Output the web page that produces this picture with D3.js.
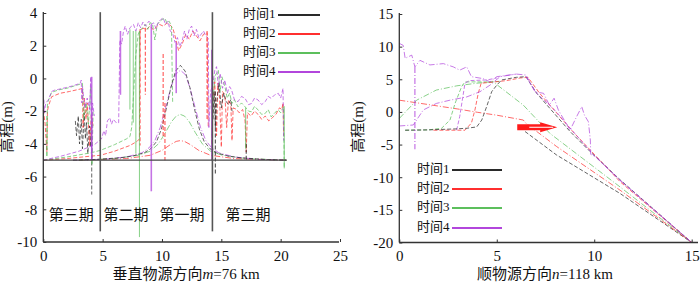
<!DOCTYPE html>
<html><head><meta charset="utf-8">
<script src="https://cdn.jsdelivr.net/npm/d3@7"></script>
<style>
body{margin:0;background:#fff}
svg text{font-family:"Liberation Serif","Noto Sans CJK SC",serif;fill:#111}
</style></head><body>
<svg id="c" width="700" height="282"></svg>
<script>
// ---------- shared labels ----------
const timeNames = ["时间1","时间2","时间3","时间4"];
const periodNames = ["第三期","第二期","第一期","第三期"];
const periodX = [2.35, 6.97, 11.68, 17.25];
const periodY = -8.43;
const dividerX = [4.8, 14.25];
const dividerRange = [4.05, -9.35];
const baseLevel = -5, baseExtent = [0, 20.5];

// ---------- left panel ticks ----------
const leftXTicks = [0,5,10,15,20,25];
const leftYTicks = [-10,-8,-6,-4,-2,0,2,4];
// ---------- right panel ticks ----------
const rightXTicks = [0,5,10,15];
const rightYTicks = [-20,-15,-10,-5,0,5,10,15];

// ---------- left panel data (x km, elevation m) ----------
const t1Mound = [[2.5,-5],[4.5,-4.95],[6.5,-4.85],[7.5,-4.75],[8.5,-4.55],[9.05,-4.3],[9.55,-3.85],[9.95,-3.1],[10.35,-1.9],[10.75,-0.55],[11.15,0.45],[11.55,0.8],[11.95,0.45],[12.35,-0.55],[12.75,-1.9],[13.15,-3.1],[13.55,-3.85],[14.05,-4.3],[14.6,-4.55],[15.6,-4.75],[16.6,-4.85],[18.6,-4.95],[20.5,-5]];
const t4Mound = [[2.5,-5],[5,-4.95],[7,-4.8],[8.3,-4.55],[8.9,-4.25],[9.4,-3.8],[9.85,-3.0],[10.3,-1.8],[10.75,-0.55],[11.15,0.25],[11.55,0.5],[11.95,0.25],[12.35,-0.55],[12.8,-1.8],[13.25,-3.0],[13.7,-3.8],[14.2,-4.25],[14.8,-4.55],[16.1,-4.8],[18.1,-4.95],[20.5,-5]];
const t3Mound = [[3,-5],[6,-4.9],[8,-4.7],[9,-4.45],[9.7,-4.0],[10.3,-3.3],[10.8,-2.65],[11.2,-2.3],[11.55,-2.2],[11.9,-2.3],[12.3,-2.65],[12.8,-3.3],[13.4,-4.0],[14.1,-4.45],[15.1,-4.7],[17.1,-4.9],[20.5,-5]];
const t2Mound = [[3,-5],[7,-4.9],[9,-4.7],[10,-4.4],[10.7,-4.05],[11.2,-3.85],[11.55,-3.8],[11.9,-3.85],[12.4,-4.05],[13.1,-4.4],[14.1,-4.7],[16.1,-4.9],[20.5,-5]];

const t4Center = [[0,-5],[1.5,-4.75],[3,-4.45],[4.3,-4.05],[4.9,-3.7],[5.1,-3.2],[5.25,-3.5],[5.4,-2.6],[5.6,-2.4],[5.75,-2.8],[5.9,-2.5],[6.2,-2.75],[6.35,-2.7],[6.45,2.35],[6.6,2.1],[6.75,2.85],[6.9,3.2],[7.1,2.7],[7.3,3.1],[7.6,3.3],[7.8,2.9],[8.0,3.4],[8.2,3.1],[8.4,3.45],[8.6,3.2],[8.9,3.5],[9.1,3.3],[9.3,3.4],[9.5,3.05],[9.7,3.45],[9.9,3.6],[10.1,3.7],[10.3,3.3],[10.5,3.5],[10.7,2.9],[10.9,2.75],[11.1,2.2],[11.3,2.5],[11.5,1.95],[11.7,2.3],[11.9,2.9],[12.1,2.4],[12.3,3.0],[12.5,3.2],[12.7,2.6],[12.9,3.0],[13.1,2.5],[13.3,2.7],[13.5,2.9],[13.7,2.6],[13.9,2.45],[13.95,-3.0]];
const t3Center = [[0,-5],[2,-4.8],[4,-4.55],[4.8,-4.4],[6,-4.05],[7.0,-3.7],[7.3,-3.55],[7.45,-3.0],[7.6,-1.0],[7.8,1.5],[8.0,2.7],[8.15,2.96],[8.4,3.1],[8.6,3.3],[8.8,3.0],[9.0,3.4],[9.2,3.35],[9.4,2.35],[9.6,3.3],[9.8,3.47],[10.0,3.6],[10.25,3.68],[10.4,3.4],[10.6,3.5],[10.8,3.2],[10.9,-1.5]];
const t2Center = [[0,-5],[2,-4.9],[4,-4.75],[4.8,-4.7],[6,-4.45],[7.3,-4.1],[7.9,-3.85],[8.1,-3.7],[8.15,2.9],[8.4,3.07],[8.7,3.0],[9.0,3.2],[9.3,2.95],[9.55,3.17],[9.8,3.3],[10.1,3.2],[10.4,3.37],[10.7,3.25],[10.9,3.1],[11.1,2.6],[11.4,1.7],[11.7,2.1],[12.0,2.7],[12.3,2.4],[12.6,2.9],[12.9,2.6],[13.2,2.3],[13.5,2.7],[13.8,2.8],[13.9,-3.0]];

const t4Left = [[0.05,-1.3],[0.1,-2.1],[0.2,-1.5],[0.42,-1.32],[0.7,-0.8],[1.0,-0.7],[1.26,-0.67],[1.97,-0.55],[2.5,-0.45],[3.1,-0.3],[3.2,-0.1],[3.25,-1.5],[3.3,-0.5],[3.5,-1.8],[3.7,-1.2],[3.9,-1.9],[4.0,0.1],[4.08,-5],[4.15,-1.5],[4.3,-2.3]];
const t3Left = [[0.3,-2.3],[0.3,-4.8],[0.35,-1.5],[0.7,-0.85],[1.3,-0.7],[2.0,-0.6],[3.1,-0.35],[3.3,-0.3],[3.4,-2.5],[3.6,-1.5],[3.8,-2.8],[4.0,-0.5],[4.1,-5.3],[4.2,-2.0]];
const t2Left = [[0,-1.94],[0.15,-2.75],[0.3,-4.5],[0.35,-2.0],[0.42,-1.73],[0.7,-1.12],[1.4,-0.91],[2.2,-0.8],[3.1,-0.65],[3.3,-0.6],[3.35,-3.0],[3.45,-1.2],[3.6,-2.5],[3.7,-1.5],[3.9,-4.1],[4.05,-2.2],[4.2,-3.0]];
const t1Left = [[2.7,-2.6],[2.8,-3.5],[2.95,-2.3],[3.05,-4.0],[3.2,-2.5],[3.3,-4.3],[3.45,-2.1],[3.55,-3.7],[3.65,-2.7],[3.75,-4.6],[3.9,-2.9],[4.0,-4.2],[4.08,-2.6],[4.08,-7.1]];

const t4Right = [[13.95,-3.0],[14.1,-0.8],[14.3,-0.3],[14.45,0.5],[14.6,0.72],[14.75,-0.5],[14.9,0.31],[15.1,-0.6],[15.3,-0.1],[15.5,-0.9],[15.7,-0.5],[15.87,-0.71],[16.1,-1.3],[16.4,-1.42],[16.7,-1.1],[17.0,-1.22],[17.3,-1.6],[17.55,-1.53],[17.8,-1.2],[18.1,-1.32],[18.4,-1.6],[18.7,-1.42],[18.95,-1.1],[19.2,-1.22],[19.5,-1.0],[19.8,-0.91],[20.0,-1.2],[20.2,-0.61],[20.25,-3.8]];
const t3Right = [[14.2,-3.5],[14.35,-0.9],[14.5,0.2],[14.75,0.5],[14.9,-0.8],[15.05,0.1],[15.3,-0.5],[15.5,-1.2],[15.7,-0.9],[15.9,-1.53],[16.1,-1.3],[16.4,-1.73],[16.7,-1.5],[17.0,-1.73],[17.3,-2.0],[17.55,-2.04],[17.8,-1.7],[18.1,-1.93],[18.4,-2.2],[18.7,-2.14],[18.95,-1.9],[19.2,-2.35],[19.5,-2.1],[19.8,-1.93],[20.0,-2.1],[20.25,-1.73],[20.3,-5.5]];
const t2Right = [[14.2,-4.0],[14.3,-1.2],[14.45,-0.2],[14.6,-3.5],[14.7,-0.3],[14.85,-1.2],[15.0,-4.2],[15.1,-0.8],[15.3,-1.0],[15.45,-3.0],[15.6,-1.3],[15.8,-1.6],[15.9,-3.8],[16.0,-1.8],[16.3,-1.9],[16.5,-2.1],[16.8,-1.9],[17.0,-2.6],[17.1,-4.5],[17.2,-2.1],[17.5,-2.3],[17.8,-2.0],[18.1,-2.2],[18.4,-2.5],[18.7,-2.3],[19.0,-2.6],[19.3,-2.4],[19.6,-2.2],[19.9,-1.8],[20.1,-1.9],[20.2,-1.5],[20.25,-3.5]];
const t1Right = [[14.3,-2.5],[14.4,-0.8],[14.5,-3.0],[14.6,-1.5],[14.8,-0.3],[15.0,-1.8],[15.2,-0.9],[15.4,-1.4],[15.6,-1.6],[15.8,-1.3],[15.9,-2.0]];

// vertical spikes: [x, top, bottom]
const t4SpikesL = [[9.1,3.3,-6.9],[11.2,2.2,-0.9],[4.08,0.1,-5.0],[14.2,1.75,-5.0],[6.5,2.9,-1.0]];
const t3SpikesL = [[8.1,2.9,-9.7],[7.3,3.0,-1.9],[7.58,2.9,-2.7],[7.8,2.9,-4.6],[20.3,-1.7,-5.5],[17.05,-1.8,-4.3]];
const t2SpikesL = [[8.15,3.0,-4.1],[10.1,1.5,-3.65],[10.25,-1.5,-5.0],[13.8,2.9,-2.6],[8.6,3.1,-1.0]];
const t1SpikesL = [[14.5,-0.8,-5.85],[17.1,-4.0,-5.0]];

// ---------- right panel data (x km, elevation m) ----------
const r4Upper = [[0,10.5],[0.2,10.2],[0.3,8.2],[0.46,8.45],[0.64,8.7],[0.8,6.9],[1.06,7.9],[1.57,7.2],[2.26,7.4],[2.77,6.9],[3.1,6.4],[3.46,6.9],[3.7,5.4],[4.3,5.1],[4.65,4.6],[5.0,5.4],[6.0,5.8],[6.5,5.65],[6.96,3.1],[7.4,2.85],[7.7,1.05],[7.94,2.1],[8.16,0.3],[8.76,-2.8],[9.1,-0.7],[9.36,0.8],[9.5,-0.5],[9.7,-1.5],[9.8,-4.3],[9.82,-6.5],[10.1,-6.9],[11.3,-10.4],[15,-20]];
const r4Lower = [[0,-2.15],[0.72,-2.0],[1.23,0.3],[1.9,1.3],[2.6,1.8],[3.46,2.3],[4.14,3.1],[4.65,4.1],[5.17,5.4],[6.0,5.8]];
const r4Steep = [[2.94,-2.8],[3.1,-0.7],[3.37,4.4],[3.6,4.8],[4.5,4.9],[5.0,5.2]];
const r4Slope = [[6.5,5.4],[7.0,3.0],[8.0,0.2],[9.0,-3.3],[10.0,-6.7],[11.33,-10.5],[15,-20]];
const r4Spike = [[0.8,6.9,-5.7]];
const r1Main = [[0.3,-2.8],[1.5,-2.75],[2.9,-2.6],[3.46,-2.5],[3.97,-2.3],[4.23,-1.24],[4.48,0.8],[4.74,3.1],[5.0,4.1],[5.25,4.9],[6.0,5.3],[6.5,5.4],[7.05,2.85],[8.76,-3.0],[9.8,-6.1],[11.33,-10.4],[15,-20]];
const r1Lower = [[6.45,-3.0],[8.07,-6.6],[11.33,-12.5],[15,-20]];
const r2Upper = [[0,1.8],[1,1.35],[2,0.9],[3,0.45],[4,-0.05],[5,-0.5],[6.36,-1.24],[6.5,-1.75],[8.07,-5.3],[11.33,-12.0],[15,-20]];
const r2Steep = [[1.75,-2.8],[2.26,-2.8],[3.37,-2.8],[3.7,-1.7],[3.88,0.3],[4.05,2.85],[4.2,4.4],[4.9,4.6],[5.5,4.8],[6.2,5.2],[6.6,5.3],[7.2,2.85],[8.9,-3.0],[11.33,-10.7],[15,-20]];
const r3Upper = [[0,-1.0],[0.89,1.8],[1.9,3.35],[2.95,4.0],[3.97,4.4],[4.82,4.6],[6.36,1.05],[7.73,-3.3],[11.33,-11.5],[15,-20]];
const r3Steep = [[0.3,-2.8],[1.5,-2.75],[2.17,-2.5],[2.6,-1.24],[2.86,1.3],[3.2,3.9],[3.37,4.6],[4.74,4.6],[5.2,4.7]];
const arrowFrom = [6.05,-2.35], arrowTo = [8.1,-2.35];

// ---------- styles ----------
const colors = ["#2a2a2a","#ff2f2f","#5cbf5c","#b246dc"];
const dashes = {dash:"4,2", dd:"6,2,1,2", solid:null};

const svg = d3.select("#c");

function panel(o){
  const x = d3.scaleLinear().domain(o.xd).range(o.xr);
  const y = d3.scaleLinear().domain(o.yd).range(o.yr);
  const g = svg.append("g");
  const line = d3.line().x(d=>x(d[0])).y(d=>y(d[1]));
  o.series.forEach(s=>{
    g.append("path").attr("d",line(s.d)).attr("fill","none")
     .attr("stroke",colors[s.t]).attr("stroke-width",s.w||1)
     .attr("stroke-opacity",s.op||0.72)
     .attr("stroke-dasharray",dashes[s.k]);
  });
  o.spikes.forEach(s=>{
    s.d.forEach(p=>{
      g.append("line").attr("x1",x(p[0])).attr("x2",x(p[0]))
       .attr("y1",y(p[1])).attr("y2",y(p[2]))
       .attr("stroke",colors[s.t]).attr("stroke-width",s.w||1.2)
       .attr("stroke-opacity",0.75).attr("stroke-dasharray",dashes[s.k]);
    });
  });
  // axes
  const ax = d3.axisBottom(x).tickValues(o.xt).tickSizeInner(-3).tickSizeOuter(0).tickPadding(8).tickFormat(d=>String(d));
  const ay = d3.axisLeft(y).tickValues(o.yt).tickSizeInner(-3).tickSizeOuter(0).tickPadding(6).tickFormat(d=>String(d));
  const gx = svg.append("g").attr("transform",`translate(0,${o.yr[0]})`).call(ax);
  const gy = svg.append("g").attr("transform",`translate(${o.xr[0]},0)`).call(ay);
  [gx,gy].forEach(a=>{
    a.attr("font-family",null);
    a.selectAll("path").attr("stroke","#333").attr("stroke-width",1.3);
    a.selectAll("line").attr("stroke","#333");
    a.selectAll("text").attr("font-size",15).attr("font-family","Liberation Serif").attr("fill","#111");
  });
  gx.select(".domain").attr("d",`M${o.xr[0]},0H${o.axisEnd}`);
  gy.select(".domain").attr("d",`M0,${o.yr[0]}V${o.yr[1]-1}`);
  return {x,y,g};
}

// ----- left panel -----
const L = panel({
  xd:[0,25], xr:[43.3,340], yd:[-10,4], yr:[242,13], xt:leftXTicks, yt:leftYTicks, axisEnd:339,
  series:[
    {d:t1Left,t:0,k:"dash"},
    {d:t2Left,t:1,k:"dash"},{d:t3Left,t:2,k:"dash"},{d:t4Left,t:3,k:"dash"},
    {d:t2Center,t:1,k:"dash"},{d:t3Center,t:2,k:"dash"},{d:t4Center,t:3,k:"dash"},
    {d:t2Right,t:1,k:"dash"},{d:t3Right,t:2,k:"dash"},{d:t4Right,t:3,k:"dash"},{d:t1Right,t:0,k:"dash"},
    {d:t2Mound,t:1,k:"dd"},{d:t3Mound,t:2,k:"dd"},{d:t4Mound,t:3,k:"dd"},{d:t1Mound,t:0,k:"dash"}
  ],
  spikes:[
    {d:t1SpikesL,t:0,k:"dash"},{d:t2SpikesL,t:1,k:"dash"},{d:t3SpikesL,t:2,k:"solid",w:1},{d:t4SpikesL,t:3,k:"solid",w:1.6}
  ]
});
// baseline
L.g.append("line").attr("x1",L.x(baseExtent[0])).attr("x2",L.x(baseExtent[1]))
  .attr("y1",L.y(baseLevel)).attr("y2",L.y(baseLevel)).attr("stroke","#444").attr("stroke-width",1.2);
// dividers
dividerX.forEach(v=>{
  svg.append("line").attr("x1",L.x(v)).attr("x2",L.x(v)).attr("y1",L.y(dividerRange[0])).attr("y2",L.y(dividerRange[1]))
    .attr("stroke","#555").attr("stroke-width",1.6);
});
periodNames.forEach((p,i)=>{
  svg.append("text").attr("x",L.x(periodX[i])).attr("y",L.y(periodY)).attr("text-anchor","middle")
    .attr("dominant-baseline","middle").attr("font-size",15).text(p);
});

// ----- right panel -----
const R = panel({
  xd:[0,15], xr:[399.3,691.7], yd:[-20,15], yr:[242.5,14], xt:rightXTicks, yt:rightYTicks, axisEnd:698,
  series:[
    {d:r1Lower,t:0,k:"dash"},{d:r2Upper,t:1,k:"dd"},{d:r3Upper,t:2,k:"dd"},
    {d:r3Steep,t:2,k:"dash"},{d:r2Steep,t:1,k:"dash"},{d:r4Steep,t:3,k:"dash"},
    {d:r1Main,t:0,k:"dash"},{d:r4Lower,t:3,k:"dd"},{d:r4Slope,t:3,k:"dash"},{d:r4Upper,t:3,k:"dd"}
  ],
  spikes:[{d:r4Spike,t:3,k:"dd",w:1.2}]
});
// arrow (annotation)
{
  const x0=R.x(arrowFrom[0]), x1=R.x(arrowTo[0]), yy=R.y(arrowFrom[1]);
  const hx = x1-17;
  const pts=[[x0,yy-3],[hx,yy-3],[hx,yy-5],[x1,yy],[hx,yy+5],[hx,yy+3],[x0,yy+3]];
  R.g.append("polygon").attr("points",pts.map(p=>p.join(",")).join(" ")).attr("fill","#ff1a1a");
  R.g.append("line").attr("x1",x0+12).attr("x2",x1-4).attr("y1",yy).attr("y2",yy).attr("stroke","#fff").attr("stroke-width",1);
}

// ----- axis titles -----
function ytitle(cx){
  svg.append("text").attr("transform",`translate(${cx},127) rotate(-90)`).attr("text-anchor","middle")
    .attr("dominant-baseline","middle").attr("font-size",15).text("高程(m)");
}
ytitle(9); ytitle(360);
function xtitle(cx, pre, v, post){
  const t = svg.append("text").attr("x",cx).attr("y",279).attr("text-anchor","middle").attr("font-size",15);
  t.append("tspan").text(pre);
  t.append("tspan").attr("font-style","italic").text(v);
  t.append("tspan").text(post);
}
xtitle(186,"垂直物源方向","m","=76 km");
xtitle(545,"顺物源方向","n","=118 km");

// ----- legends -----
function legend(tx, lx0, lx1, ys){
  timeNames.forEach((n,i)=>{
    svg.append("text").attr("x",tx).attr("y",ys[i]).attr("dominant-baseline","middle").attr("font-size",13).text(n);
    svg.append("line").attr("x1",lx0).attr("x2",lx1).attr("y1",ys[i]).attr("y2",ys[i])
      .attr("stroke",colors[i]).attr("stroke-width",2);
  });
}
legend(243,278,320,[15,34,53,72]);
legend(417,452,502,[170,189,208,228]);
</script>
</body></html>
